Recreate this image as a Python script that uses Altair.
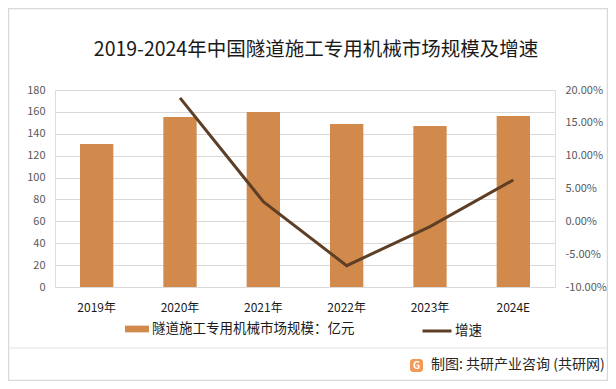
import altair as alt
import pandas as pd

years = ["2019年", "2020年", "2021年", "2022年", "2023年", "2024E"]
market_size = [130.7, 155.3, 159.9, 148.9, 147.0, 156.2]
growth = [None, 0.188, 0.030, -0.0675, -0.008, 0.063]

bar_label = "隧道施工专用机械市场规模：亿元"
line_label = "增速"
title_text = "2019-2024年中国隧道施工专用机械市场规模及增速"
source_text = "制图: 共研产业咨询 (共研网)"

BAR_COLOR = "#d28a4c"
LINE_COLOR = "#5e3f26"
GRID = "#d9d9d9"
FONT = "Noto Sans CJK SC"

df = pd.DataFrame({"year": years, "size": market_size, "growth": growth,
                   "s1": bar_label, "s2": line_label})

x_enc = alt.X("year:N", sort=years, title=None,
              scale=alt.Scale(paddingInner=0.6, paddingOuter=0.3),
              axis=alt.Axis(labelAngle=0, ticks=False, domain=False, labelPadding=15,
                            labelFontSize=12, labelColor="#1a1a1a", labelFont=FONT))

bars = alt.Chart(df).mark_bar(color=BAR_COLOR).encode(
    x=x_enc,
    y=alt.Y("size:Q", title=None,
            scale=alt.Scale(domain=[0, 180], nice=False),
            axis=alt.Axis(values=list(range(0, 181, 20)), ticks=False, domain=False,
                          grid=True, gridColor=GRID, labelPadding=10,
                          labelFontSize=11, labelColor="#595959", labelFont=FONT)),
    color=alt.Color("s1:N", scale=alt.Scale(range=[BAR_COLOR]),
                    legend=alt.Legend(orient="none", legendX=70, legendY=227, title=None,
                                      padding=0, symbolType="M-1,-0.28H1V0.28H-1Z",
                                      symbolSize=576, symbolStrokeWidth=0, labelLimit=400,
                                      labelOffset=3, labelFontSize=13.5, labelFont=FONT,
                                      labelColor="#1a1a1a")),
)

line = alt.Chart(df).transform_filter("isValid(datum.growth)").mark_line(
    strokeWidth=3, color=LINE_COLOR).encode(
    x=alt.X("year:N", sort=years),
    y=alt.Y("growth:Q", title=None,
            scale=alt.Scale(domain=[-0.10, 0.20], nice=False),
            axis=alt.Axis(orient="right", values=[-0.10, -0.05, 0, 0.05, 0.10, 0.15, 0.20],
                          labelExpr="replace(format(datum.value, '.2%'), '\u2212', '-')",
                          ticks=False, domain=False, grid=False, labelPadding=10,
                          labelFontSize=11, labelColor="#595959", labelFont=FONT)),
    stroke=alt.Stroke("s2:N", scale=alt.Scale(range=[LINE_COLOR]),
                      legend=alt.Legend(orient="none", legendX=366, legendY=225, title=None,
                                        padding=0, symbolType="stroke", symbolSize=841,
                                        symbolStrokeWidth=3, labelOffset=2,
                                        labelFontSize=13.5, labelFont=FONT,
                                        labelColor="#1a1a1a")),
)

one = alt.Data(values=[{"k": 0}])

title = alt.Chart(one).mark_text(text=title_text, fontSize=19.5, font=FONT,
                                 color="#1a1a1a", align="center", baseline="middle").encode(
    x=alt.value(261), y=alt.value(-40))

border = alt.Chart(one).mark_rect(fillOpacity=0, stroke=GRID, strokeWidth=1.5).encode(
    x=alt.value(-46.5), x2=alt.value(552.5), y=alt.value(-81.5), y2=alt.value(290.5))

sep = alt.Chart(one).mark_rule(color="#e3e3e3", strokeWidth=1).encode(
    x=alt.value(-46.5), x2=alt.value(552.5), y=alt.value(258))

logo = alt.Chart(one).mark_rect(color="#f29a55", cornerRadius=3).encode(
    x=alt.value(355), x2=alt.value(368), y=alt.value(269), y2=alt.value(282))
logo_g = alt.Chart(one).mark_text(text="G", fontSize=10, fontWeight="bold", font=FONT,
                                  color="white", align="center", baseline="middle").encode(
    x=alt.value(361.5), y=alt.value(275.5))

source = alt.Chart(one).mark_text(text=source_text, fontSize=14, font=FONT, color="#262626",
                                  align="left", baseline="middle").encode(
    x=alt.value(376), y=alt.value(275))

chart = alt.layer(bars, line, title, border, sep, logo, logo_g, source).resolve_scale(
    y="independent", color="independent"
).properties(
    width=500, height=197,
    autosize=alt.AutoSizeParams(type="none"),
    padding={"left": 47, "top": 82, "right": 53, "bottom": 94},
).configure_view(stroke=None).configure(background="white")

chart.save("out.html", embed_options={"renderer": "svg", "actions": False})
